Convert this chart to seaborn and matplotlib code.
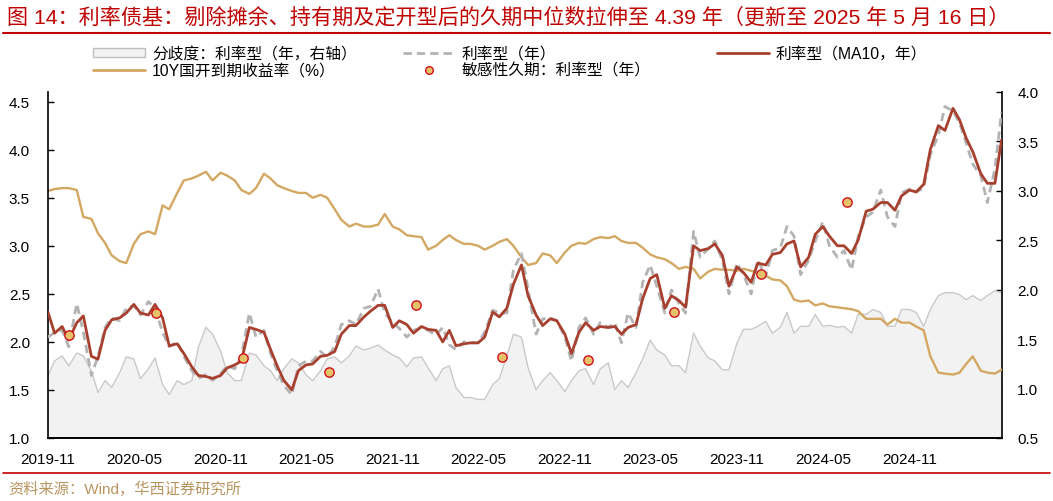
import numpy as np
import pandas as pd
import matplotlib
matplotlib.use("Agg")
import matplotlib.pyplot as plt
from matplotlib.patches import Patch
from matplotlib.lines import Line2D
import seaborn as sns

# ---------------- data (semi-monthly) ----------------
dates = pd.date_range("2019-11-01", periods=134, freq="SMS")

ma10 = [2.31, 2.09, 2.16, 2.02, 2.20, 2.27, 1.85, 1.82, 2.12, 2.23,
        2.25, 2.30, 2.39, 2.30, 2.28, 2.39, 2.25, 1.96, 1.98, 1.88,
        1.74, 1.65, 1.64, 1.62, 1.65, 1.73, 1.76, 1.80, 2.15, 2.13,
        2.10, 1.92, 1.75, 1.60, 1.50, 1.70, 1.76, 1.77, 1.85, 1.86,
        1.90, 2.08, 2.17, 2.17, 2.26, 2.32, 2.38, 2.38, 2.15, 2.22,
        2.18, 2.09, 2.16, 2.13, 2.12, 2.00, 2.12, 1.96, 1.98, 1.99,
        1.99, 2.05, 2.31, 2.26, 2.35, 2.60, 2.80, 2.48, 2.28, 2.17,
        2.24, 2.22, 2.08, 1.88, 2.10, 2.20, 2.12, 2.16, 2.15, 2.16,
        2.08, 2.15, 2.18, 2.45, 2.66, 2.70, 2.35, 2.48, 2.43, 2.36,
        3.00, 2.95, 2.97, 3.02, 2.90, 2.58, 2.78, 2.72, 2.62, 2.82,
        2.80, 2.91, 2.93, 3.02, 3.05, 2.78, 2.88, 3.12, 3.20, 3.10,
        3.00, 3.00, 2.92, 3.06, 3.36, 3.38, 3.45, 3.45, 3.37, 3.52,
        3.58, 3.56, 3.64, 4.00, 4.25, 4.20, 4.43, 4.31, 4.12, 3.98,
        3.75, 3.65, 3.65, 4.10]

raw = [2.05, 2.10, 2.12, 1.95, 2.40, 2.10, 1.65, 1.85, 2.15, 2.25,
       2.22, 2.35, 2.38, 2.28, 2.42, 2.35, 2.10, 1.95, 2.00, 1.85,
       1.70, 1.62, 1.66, 1.60, 1.67, 1.75, 1.72, 1.85, 2.30, 2.05,
       2.12, 1.88, 1.70, 1.55, 1.45, 1.75, 1.80, 1.80, 1.90, 1.84,
       1.95, 2.18, 2.22, 2.18, 2.35, 2.37, 2.55, 2.30, 2.20, 2.14,
       2.05, 2.12, 2.15, 2.12, 2.07, 2.15, 1.97, 1.92, 2.00, 1.99,
       1.99, 2.10, 2.33, 2.30, 2.30, 2.75, 2.92, 2.55, 2.08, 2.24,
       2.25, 2.22, 2.05, 1.80, 2.15, 2.25, 2.08, 2.20, 2.15, 2.20,
       1.99, 2.30, 2.15, 2.62, 2.80, 2.58, 2.30, 2.54, 2.40, 2.30,
       3.15, 2.88, 2.97, 3.05, 2.85, 2.50, 2.82, 2.70, 2.50, 2.85,
       2.68, 2.95, 2.98, 3.20, 3.10, 2.70, 2.85, 3.05, 3.25, 3.00,
       2.88, 2.95, 2.75, 3.10, 3.30, 3.35, 3.58, 3.30, 3.20, 3.55,
       3.59, 3.56, 3.60, 3.95, 4.15, 4.45, 4.40, 4.28, 4.07, 3.85,
       3.73, 3.45, 3.80, 4.39]

cdb10y = [3.57, 3.59, 3.60, 3.60, 3.58, 3.30, 3.28, 3.13, 3.03, 2.90,
          2.84, 2.82, 3.02, 3.12, 3.15, 3.12, 3.42, 3.38, 3.55, 3.68,
          3.70, 3.73, 3.77, 3.68, 3.76, 3.73, 3.68, 3.58, 3.54, 3.60,
          3.75, 3.70, 3.63, 3.60, 3.57, 3.55, 3.55, 3.50, 3.53, 3.50,
          3.38, 3.27, 3.20, 3.23, 3.20, 3.20, 3.22, 3.33, 3.20, 3.17,
          3.11, 3.10, 3.09, 2.96, 3.00, 3.06, 3.11, 3.06, 3.02, 3.02,
          3.00, 2.96, 3.00, 3.04, 3.07, 3.00, 2.88, 2.80, 2.82, 2.92,
          2.90, 2.82, 2.93, 3.00, 3.03, 3.02, 3.07, 3.09, 3.08, 3.10,
          3.05, 3.03, 3.03, 2.98, 2.91, 2.88, 2.86, 2.82, 2.76, 2.78,
          2.76, 2.66, 2.73, 2.76, 2.75, 2.75, 2.74, 2.76, 2.74, 2.72,
          2.69, 2.65, 2.64, 2.58, 2.44, 2.42, 2.43, 2.38, 2.40, 2.37,
          2.36, 2.35, 2.34, 2.32, 2.24, 2.24, 2.24, 2.18, 2.24, 2.20,
          2.20, 2.16, 2.12, 1.85, 1.68, 1.67, 1.66, 1.68, 1.77, 1.85,
          1.70, 1.68, 1.67, 1.71]

divergence = [1.13, 1.28, 1.33, 1.23, 1.36, 1.33, 1.18, 0.96, 1.08, 1.01,
              1.16, 1.32, 1.30, 1.10, 1.20, 1.31, 1.04, 0.94, 1.08, 1.04,
              1.08, 1.42, 1.62, 1.55, 1.38, 1.16, 1.08, 1.08, 1.36, 1.34,
              1.23, 1.18, 1.08, 1.20, 1.30, 1.26, 1.14, 1.08, 1.18, 1.30,
              1.32, 1.26, 1.33, 1.43, 1.39, 1.41, 1.44, 1.39, 1.34, 1.31,
              1.22, 1.31, 1.32, 1.21, 1.08, 1.20, 1.23, 1.01, 0.91, 0.91,
              0.89, 0.89, 1.04, 1.10, 1.33, 1.55, 1.52, 1.21, 0.99, 1.08,
              1.16, 1.08, 0.97, 1.08, 1.18, 1.20, 1.04, 1.20, 1.26, 0.99,
              1.08, 1.01, 1.16, 1.30, 1.49, 1.39, 1.34, 1.23, 1.23, 1.16,
              1.56, 1.43, 1.31, 1.28, 1.19, 1.19, 1.46, 1.60, 1.60, 1.63,
              1.68, 1.56, 1.62, 1.77, 1.56, 1.63, 1.63, 1.75, 1.63, 1.64,
              1.62, 1.63, 1.56, 1.75, 1.75, 1.80, 1.77, 1.63, 1.63, 1.80,
              1.80, 1.77, 1.63, 1.80, 1.94, 1.97, 1.97, 1.95, 1.90, 1.94,
              1.89, 1.94, 1.99, 1.97]

sens_dates = pd.to_datetime(["2019-12-15", "2020-06-18", "2020-12-18", "2021-06-18",
                             "2021-12-20", "2022-06-20", "2022-12-20", "2023-06-20",
                             "2023-12-22", "2024-06-22"])
sens_values = [2.07, 2.30, 1.83, 1.69, 2.38, 1.84, 1.81, 2.31, 2.71, 3.46]

xtick_dates = pd.to_datetime(["2019-11-01", "2020-05-01", "2020-11-01", "2021-05-01",
                              "2021-11-01", "2022-05-01", "2022-11-01", "2023-05-01",
                              "2023-11-01", "2024-05-01", "2024-11-01"])
xtick_labels = ["2019-11", "2020-05", "2020-11", "2021-05", "2021-11", "2022-05",
                "2022-11", "2023-05", "2023-11", "2024-05", "2024-11"]
left_ticks = [1.0, 1.5, 2.0, 2.5, 3.0, 3.5, 4.0, 4.5]
right_ticks = [0.5, 1.0, 1.5, 2.0, 2.5, 3.0, 3.5, 4.0]

title = "图 14：利率债基：剔除摊余、持有期及定开型后的久期中位数拉伸至 4.39 年（更新至 2025 年 5 月 16 日）"
source = "资料来源：Wind，华西证券研究所"
lab_div = "分歧度：利率型（年，右轴）"
lab_raw = "利率型（年）"
lab_ma = "利率型（MA10，年）"
lab_yield = "10Y国开到期收益率（%）"
lab_sens = "敏感性久期：利率型（年）"

# ---------------- style ----------------
sns.set_theme(style="white")
plt.rcParams["font.family"] = ["Liberation Sans", "Noto Sans CJK SC", "DejaVu Sans"]
plt.rcParams["axes.unicode_minus"] = False

C_MA = "#A8402F"
C_RAW = "#B3B3B3"
C_YLD = "#D3A862"
C_DIVF = "#F2F2F2"
C_DIVL = "#C9C9C9"
C_DOTF = "#E6C36A"
C_DOTE = "#D0101A"
RED = "#C00000"

W, H = 1053, 502
fig = plt.figure(figsize=(W / 100, H / 100), dpi=100)
ax = fig.add_axes([48 / W, (H - 439) / H, 954 / W, 346 / H])
ax2 = ax.twinx()
ax.set_zorder(ax2.get_zorder() + 1)
ax.patch.set_visible(False)

# divergence (right axis)
ax2.fill_between(dates, 0.5, divergence, color=C_DIVF, lw=0)
sns.lineplot(x=dates, y=divergence, ax=ax2, color=C_DIVL, lw=1.0, legend=False)

# left axis series
sns.lineplot(x=dates, y=cdb10y, ax=ax, color=C_YLD, lw=1.7, legend=False, zorder=2)
sns.lineplot(x=dates, y=raw, ax=ax, color=C_RAW, lw=2.0, linestyle=(0, (3, 1.8)),
             legend=False, zorder=3)
sns.lineplot(x=dates, y=ma10, ax=ax, color=C_MA, lw=2.0, legend=False, zorder=4)
sns.scatterplot(x=sens_dates, y=sens_values, ax=ax, s=45, color=C_DOTF,
                edgecolor=C_DOTE, linewidth=1.0, zorder=5, legend=False)

xmin, xmax = pd.Timestamp("2019-11-01"), pd.Timestamp("2025-05-16")
ax.set_xlim(xmin, xmax)
ax.set_ylim(1.0, 4.6)
ax2.set_ylim(0.5, 4.0)
ax.set_xticks(xtick_dates)
ax.set_xticklabels(xtick_labels)
ax.set_yticks(left_ticks)
ax.set_yticklabels([f"{v:.1f}" for v in left_ticks])
ax2.set_yticks(right_ticks)
ax2.set_yticklabels([f"{v:.1f}" for v in right_ticks])
for a in (ax, ax2):
    a.set_xlabel("")
    a.set_ylabel("")
    a.grid(False)
    for s in a.spines.values():
        s.set_color("#000000")
        s.set_linewidth(1.2)
    a.spines["top"].set_visible(False)
ax.spines["right"].set_visible(False)
ax2.spines["left"].set_visible(False)
ax.tick_params(axis="x", direction="in", length=4, width=1, labelsize=11, pad=10,
               colors="#000000")
ax.tick_params(axis="y", direction="in", length=4, width=1, labelsize=11, pad=13,
               colors="#000000")
ax2.tick_params(axis="y", direction="in", length=4, width=1, labelsize=11, pad=11,
                colors="#000000")

# ---------------- legends ----------------
h_div = Patch(facecolor=C_DIVF, edgecolor="#BDBDBD", lw=1)
h_raw = Line2D([], [], color=C_RAW, lw=2.0, linestyle=(0, (3, 1.8)))
h_ma = Line2D([], [], color=C_MA, lw=2.0)
h_yld = Line2D([], [], color=C_YLD, lw=2.0)
h_sens = Line2D([], [], marker="o", ls="none", markersize=5.5, markerfacecolor=C_DOTF,
                markeredgecolor=C_DOTE, markeredgewidth=1.0)
leg_kw = dict(loc="upper left", frameon=False, borderpad=0, borderaxespad=0,
              handlelength=3.3, handleheight=0.55, handletextpad=0.45,
              labelspacing=0.12, fontsize=11.3, labelcolor="#000000")
for hs, ls, x in ([(h_div, h_yld), (lab_div, lab_yield), 93],
                  [(h_raw, h_sens), (lab_raw, lab_sens), 403],
                  [(h_ma,), (lab_ma,), 717]):
    lg = fig.legend(list(hs), list(ls), bbox_to_anchor=(x / W, 1 - 47 / H), **leg_kw)

# ---------------- title, rules, source ----------------
fig.text(7 / W, 1 - 17 / H, title, color=RED, fontsize=15.2, ha="left", va="center")
fig.add_artist(Line2D([3 / W, 1050 / W], [1 - 34 / H] * 2, color=RED, lw=1.5))
fig.add_artist(Line2D([3 / W, 1050 / W], [1 - 474 / H] * 2, color=RED, lw=1.2))
fig.text(8 / W, 1 - 489 / H, source, color="#B8955F", fontsize=11, ha="left", va="center")

fig.savefig("out.png", dpi=100)
